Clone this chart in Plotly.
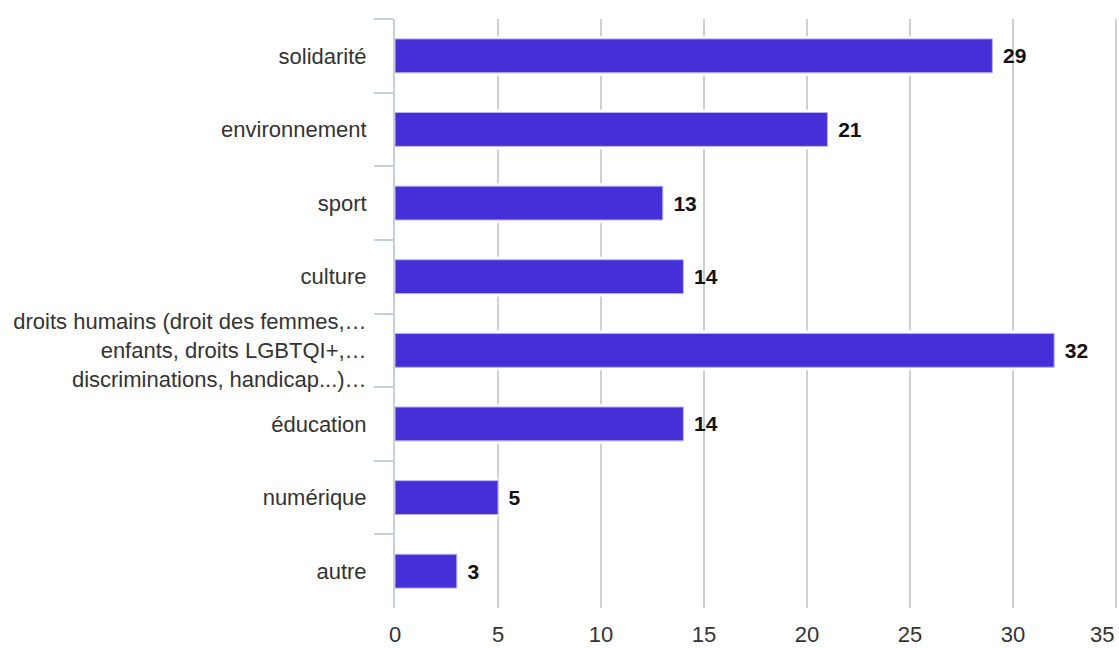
import plotly.graph_objects as go

categories = [
    "solidarité",
    "environnement",
    "sport",
    "culture",
    "droits humains (droit des femmes,…<br>enfants, droits LGBTQI+,…<br>discriminations, handicap...)…",
    "éducation",
    "numérique",
    "autre",
]
values = [29, 21, 13, 14, 32, 14, 5, 3]
x_ticks = [0, 5, 10, 15, 20, 25, 30, 35]

BAR = "#4530d8"
FONT = "Liberation Sans, Arial, sans-serif"
TICK_COLOR = "#333333"

# the last tick label is drawn as a right-anchored annotation so it stays in the window
x_ticktext = [str(t) for t in x_ticks]
last_label = x_ticktext[-1]
x_ticktext[-1] = ""

fig = go.Figure()
# white halo behind bars (interrupts gridlines like the reference)
fig.add_trace(go.Bar(
    y=categories, x=values, orientation="h", width=0.54,
    marker=dict(color="white", line=dict(width=0)),
    hoverinfo="skip", showlegend=False,
))
fig.add_trace(go.Bar(
    y=categories, x=values, orientation="h", width=0.46,
    marker=dict(color=BAR, line=dict(color="#b9b0f0", width=1)),
    text=["\u00a0\u200a" + str(v) for v in values], textposition="outside",
    textfont=dict(family=FONT, size=21, color="#111111", weight="bold"),
    cliponaxis=False, showlegend=False,
))

fig.add_annotation(
    x=x_ticks[-1], xref="x", y=0, yref="paper",
    text=last_label, showarrow=False, xanchor="right", yanchor="top",
    yshift=-12, font=dict(family=FONT, size=22, color=TICK_COLOR),
)

fig.update_layout(
    width=1119, height=648,
    margin=dict(l=395, r=2, t=19, b=40),
    barmode="overlay",
    plot_bgcolor="white", paper_bgcolor="white",
    font=dict(family=FONT, size=22, color=TICK_COLOR),
    xaxis=dict(
        range=[0, 35.05], tickvals=x_ticks, ticktext=x_ticktext, showgrid=True,
        gridcolor="#d0d0d0", gridwidth=2, zeroline=False,
        showline=False, ticks="", tickfont=dict(size=22, color=TICK_COLOR),
        ticklabelstandoff=11, automargin=False,
        fixedrange=True,
    ),
    yaxis=dict(
        categoryorder="array", categoryarray=categories,
        autorange="reversed", showgrid=False, zeroline=False,
        showline=True, linecolor="#c5cedd", linewidth=2,
        ticks="outside", tickson="boundaries", ticklen=19,
        tickcolor="#c5cedd", tickwidth=2,
        ticklabelstandoff=22, automargin=False,
        tickfont=dict(size=22, color=TICK_COLOR),
        fixedrange=True,
    ),
)

fig.write_html(
    "out.html",
    config={"displayModeBar": False},
    post_script="document.body.style.margin='0';document.body.style.overflow='hidden';",
)
